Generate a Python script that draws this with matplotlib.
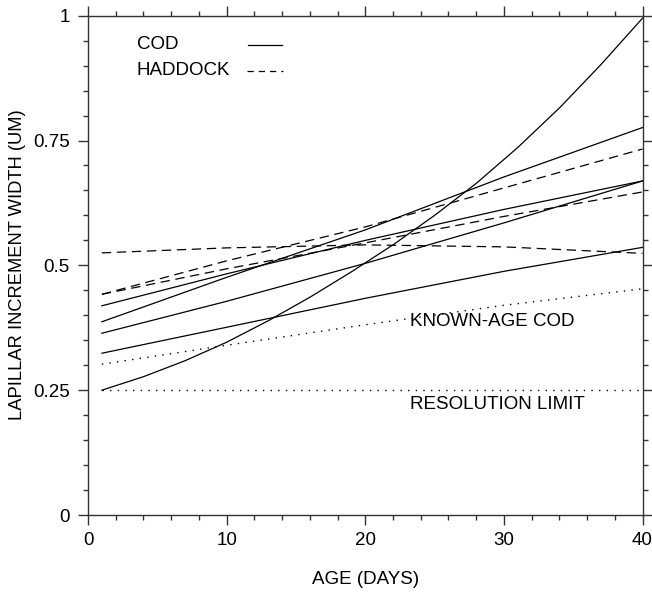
import matplotlib
matplotlib.use("Agg")
import matplotlib.pyplot as plt
from matplotlib.ticker import MultipleLocator

plt.rcParams['font.family'] = ['Liberation Sans', 'DejaVu Sans']

# ---- data ----
days_a = [1, 4, 7, 10, 13, 16, 19, 22, 25, 28, 31, 34, 37, 40]
cod_curved = [0.250, 0.277, 0.309, 0.346, 0.389, 0.436, 0.487, 0.541,
              0.600, 0.664, 0.736, 0.815, 0.902, 0.995]

days_lin = [1, 10, 20, 30, 40]
cod_b = [0.324, 0.376, 0.434, 0.488, 0.536]
cod_c = [0.364, 0.428, 0.504, 0.585, 0.669]
cod_d = [0.387, 0.476, 0.571, 0.677, 0.776]
cod_e = [0.419, 0.483, 0.550, 0.612, 0.669]

had_f = [0.442, 0.509, 0.577, 0.655, 0.733]
had_g = [0.442, 0.493, 0.545, 0.598, 0.647]
had_h = [0.525, 0.535, 0.541, 0.537, 0.524]

known_age = [0.302, 0.340, 0.381, 0.420, 0.453]
res_days = [1, 40]
res_limit = [0.25, 0.25]

x_ticks = [0, 10, 20, 30, 40]
y_ticks = [0, 0.25, 0.5, 0.75, 1]
y_ticklabels = ['0', '0.25', '0.5', '0.75', '1']

# ---- figure ----
W, H = 652, 599
fig = plt.figure(figsize=(W / 100, H / 100), dpi=100)
ax = fig.add_axes([88 / W, 1 - 515 / H, (642.5 - 88) / W, (515 - 15.7) / H])

lw = 0.9
solid = dict(color='black', lw=lw, ls='-')
dashed = dict(color='black', lw=lw, ls=(0, (7.5, 4.5)))
dotted = dict(color='black', lw=1.0, ls=(0, (1, 4.5)))

ax.plot(days_a, cod_curved, **solid)
for ys in (cod_b, cod_c, cod_d, cod_e):
    ax.plot(days_lin, ys, **solid)
for ys in (had_f, had_g, had_h):
    ax.plot(days_lin, ys, **dashed)
ax.plot(days_lin, known_age, **dotted)
ax.plot(res_days, res_limit, **dotted)

ax.set_xlim(0, 40)
ax.set_ylim(0, 1)
ax.set_xticks(x_ticks)
ax.set_yticks(y_ticks)
ax.set_yticklabels(y_ticklabels)
ax.xaxis.set_minor_locator(MultipleLocator(2))
ax.yaxis.set_minor_locator(MultipleLocator(0.05))

fs = 13.5
ax.tick_params(which='both', direction='out', top=True, right=True,
               labeltop=False, labelright=False, color='#333333', width=1.0,
               labelsize=fs)
ax.tick_params(which='major', length=7)
ax.tick_params(which='minor', length=3.5)
ax.tick_params(axis='x', pad=5)
ax.tick_params(axis='y', pad=6)
for s in ax.spines.values():
    s.set_color('#333333')
    s.set_linewidth(1.0)

# legend (drawn manually)
ax.text(3.5, 0.942, 'COD', fontsize=fs, va='center', ha='left')
ax.text(3.5, 0.890, 'HADDOCK', fontsize=fs, va='center', ha='left')
ax.plot([11.55, 14.0], [0.942, 0.942], **solid)
ax.plot([11.45, 14.1], [0.890, 0.890], color='black', lw=lw, ls=(0, (5, 4)))

# annotations
ax.text(23.2, 0.387, 'KNOWN-AGE COD', fontsize=fs, va='center', ha='left')
ax.text(23.2, 0.221, 'RESOLUTION LIMIT', fontsize=fs, va='center', ha='left')

fig.text(366 / W, 1 - 580 / H, 'AGE (DAYS)', fontsize=fs, ha='center', va='center')
fig.text(17.5 / W, 1 - 265 / H, 'LAPILLAR INCREMENT WIDTH (UM)', fontsize=13.2,
         ha='center', va='center', rotation=90)

fig.savefig('out.png', dpi=100)
